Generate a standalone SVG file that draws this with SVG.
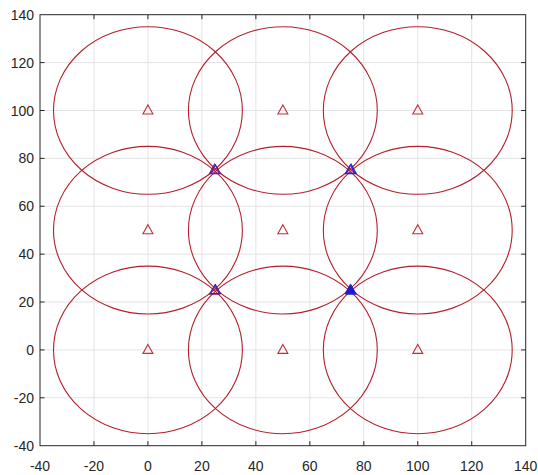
<svg xmlns="http://www.w3.org/2000/svg" width="538" height="475" viewBox="0 0 538 475">
<style>
.grid{stroke:#e3e3e3;stroke-width:1;fill:none}
.axis{stroke:#262626;stroke-width:1;fill:none}
.lbl{font-family:"Liberation Sans",Arial,sans-serif;font-size:14px;fill:#262626}
.xl{text-anchor:middle}
.yl{text-anchor:end}
.c{fill:none;stroke:#b4202c;stroke-width:1.1}
.rt{fill:none;stroke:#c0303a;stroke-width:1.1}
.bt{fill:none;stroke:#2020c8;stroke-width:1.1}
</style>
<defs>
<path id="tri" d="M0,-5.5 L5,3.5 L-5,3.5 Z"/>
</defs>
<rect x="0" y="0" width="538" height="475" fill="#ffffff"/>
<g id="grid">
<path class="grid" d="M93.97,14.7V445.7M147.93,14.7V445.7M201.9,14.7V445.7M255.87,14.7V445.7M309.83,14.7V445.7M363.8,14.7V445.7M417.77,14.7V445.7M471.73,14.7V445.7"/>
<path class="grid" d="M40,62.59H525.7M40,110.48H525.7M40,158.36H525.7M40,206.25H525.7M40,254.14H525.7M40,302.03H525.7M40,349.92H525.7M40,397.8H525.7"/>
</g>
<g id="circles">
<ellipse class="c" cx="147.93" cy="110.48" rx="94.44" ry="83.8"/>
<ellipse class="c" cx="282.85" cy="110.48" rx="94.44" ry="83.8"/>
<ellipse class="c" cx="417.77" cy="110.48" rx="94.44" ry="83.8"/>
<ellipse class="c" cx="147.93" cy="230.2" rx="94.44" ry="83.8"/>
<ellipse class="c" cx="282.85" cy="230.2" rx="94.44" ry="83.8"/>
<ellipse class="c" cx="417.77" cy="230.2" rx="94.44" ry="83.8"/>
<ellipse class="c" cx="147.93" cy="349.92" rx="94.44" ry="83.8"/>
<ellipse class="c" cx="282.85" cy="349.92" rx="94.44" ry="83.8"/>
<ellipse class="c" cx="417.77" cy="349.92" rx="94.44" ry="83.8"/>
</g>
<g id="centers">
<use href="#tri" class="rt" x="147.93" y="110.48"/>
<use href="#tri" class="rt" x="282.85" y="110.48"/>
<use href="#tri" class="rt" x="417.77" y="110.48"/>
<use href="#tri" class="rt" x="147.93" y="230.2"/>
<use href="#tri" class="rt" x="282.85" y="230.2"/>
<use href="#tri" class="rt" x="417.77" y="230.2"/>
<use href="#tri" class="rt" x="147.93" y="349.92"/>
<use href="#tri" class="rt" x="282.85" y="349.92"/>
<use href="#tri" class="rt" x="417.77" y="349.92"/>
</g>
<g id="intersections">
<use href="#tri" class="bt" x="215.39" y="170.3"/>
<use href="#tri" class="bt" x="214.6" y="169.6" style="stroke:#6a1a8a"/>
<use href="#tri" class="bt" x="350.3" y="170.3"/>
<use href="#tri" class="bt" x="351.1" y="169.6"/>
<use href="#tri" class="bt" x="215.39" y="290.06"/>
<use href="#tri" class="bt" x="214.6" y="290.8" style="stroke:#6a1a8a"/>
<use href="#tri" class="bt" x="350.3" y="290.06" style="fill:#1a1ad0"/>
<use href="#tri" class="bt" x="351.1" y="290.8"/>
</g>
<g id="axes">
<rect class="axis" x="40" y="14.7" width="485.7" height="431"/>
<path class="axis" d="M93.97,445.7v-4.5M147.93,445.7v-4.5M201.9,445.7v-4.5M255.87,445.7v-4.5M309.83,445.7v-4.5M363.8,445.7v-4.5M417.77,445.7v-4.5M471.73,445.7v-4.5M93.97,14.7v4.5M147.93,14.7v4.5M201.9,14.7v4.5M255.87,14.7v4.5M309.83,14.7v4.5M363.8,14.7v4.5M417.77,14.7v4.5M471.73,14.7v4.5"/>
<path class="axis" d="M40,62.59h4.5M40,110.48h4.5M40,158.36h4.5M40,206.25h4.5M40,254.14h4.5M40,302.03h4.5M40,349.92h4.5M40,397.8h4.5M525.7,62.59h-4.5M525.7,110.48h-4.5M525.7,158.36h-4.5M525.7,206.25h-4.5M525.7,254.14h-4.5M525.7,302.03h-4.5M525.7,349.92h-4.5M525.7,397.8h-4.5"/>
</g>
<g id="xlabels" class="lbl xl">
<text x="40" y="471">-40</text>
<text x="93.97" y="471">-20</text>
<text x="147.93" y="471">0</text>
<text x="201.9" y="471">20</text>
<text x="255.87" y="471">40</text>
<text x="309.83" y="471">60</text>
<text x="363.8" y="471">80</text>
<text x="417.77" y="471">100</text>
<text x="471.73" y="471">120</text>
<text x="525.7" y="471">140</text>
</g>
<g id="ylabels" class="lbl yl">
<text x="34" y="19.7">140</text>
<text x="34" y="67.6">120</text>
<text x="34" y="115.5">100</text>
<text x="34" y="163.4">80</text>
<text x="34" y="211.3">60</text>
<text x="34" y="259.1">40</text>
<text x="34" y="307">20</text>
<text x="34" y="354.9">0</text>
<text x="34" y="402.8">-20</text>
<text x="34" y="450.7">-40</text>
</g>
</svg>
